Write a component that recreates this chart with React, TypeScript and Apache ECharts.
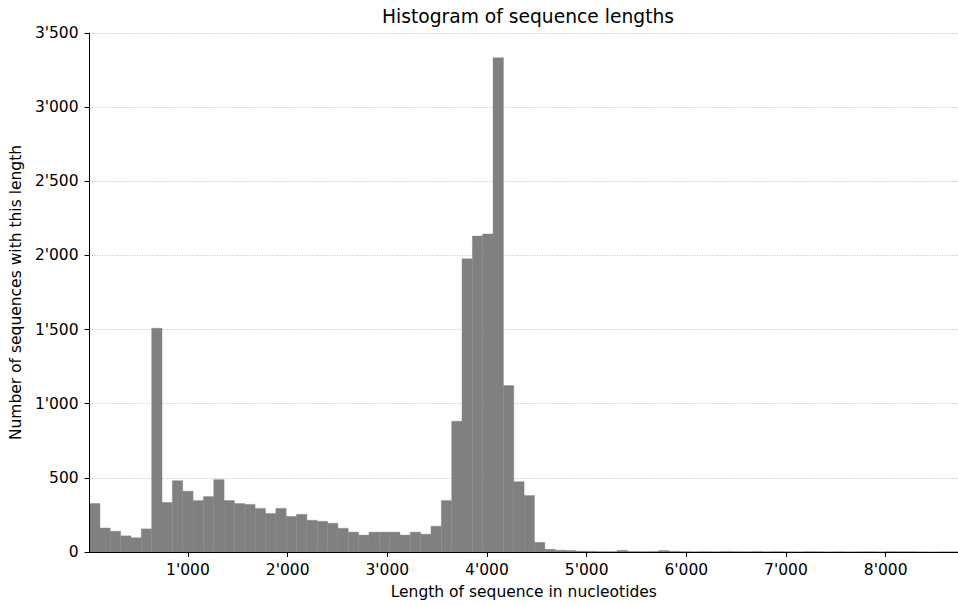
import React, { useEffect, useRef } from "react";
import * as echarts from "echarts";

const binStart = 13;
const binWidth = 103.8;
const counts = [
  327, 162, 140, 109, 96, 156, 1509, 334, 481, 410,
  347, 374, 488, 347, 327, 321, 294, 260, 294, 240,
  254, 214, 207, 194, 160, 134, 114, 134, 134, 134,
  114, 134, 120, 174, 347, 882, 1977, 2131, 2144, 3333,
  1122, 474, 381, 65, 18, 12, 10, 6, 5, 3,
  3, 11, 4, 3, 4, 10, 5, 3, 2, 3,
  2, 4, 3, 2, 4, 2, 3, 2, 1, 3,
  2, 1, 2, 1, 2, 2, 1, 3, 2, 2,
  1, 0, 1, 1,
];
const xTicks = [1000, 2000, 3000, 4000, 5000, 6000, 7000, 8000];
const yTicks = [0, 500, 1000, 1500, 2000, 2500, 3000, 3500];
const xMin = 13;
const xMax = 8726;

const titleText = "Histogram of sequence lengths";
const xName = "Length of sequence in nucleotides";
const yName = "Number of sequences with this length";

function fmt(v: number): string {
  return String(Math.round(v)).replace(/\B(?=(\d{3})+(?!\d))/g, "'");
}

const FONT = "DejaVu Sans";

export default function App() {
  const ref = useRef<HTMLDivElement>(null);
  useEffect(() => {
    if (!ref.current) return;
    const chart = echarts.init(ref.current, null, { renderer: "svg" });
    const data = counts.map((c, i) => [binStart + i * binWidth, binStart + (i + 1) * binWidth, c]);
    chart.setOption({
      animation: false,
      textStyle: { fontFamily: FONT },
      graphic: [
        {
          type: "text",
          x: 528,
          y: 7,
          style: {
            text: titleText,
            fontFamily: FONT,
            fontSize: 18.7,
            fill: "#000",
            textAlign: "center",
            textVerticalAlign: "top",
          },
        },
      ],
      grid: { left: 88, right: -10, top: 33, bottom: 48, containLabel: false },
      xAxis: {
        type: "value",
        min: xMin,
        max: xMax,
        z: 10,
        name: xName,
        nameLocation: "middle",
        nameGap: 32,
        nameTextStyle: { fontFamily: FONT, fontSize: 15.5, color: "#000" },
        axisLine: { show: true, lineStyle: { color: "#000", width: 1 } },
        axisTick: { show: true, customValues: xTicks, length: 5, lineStyle: { color: "#000", width: 1 } },
        axisLabel: {
          customValues: xTicks,
          formatter: (v: number) => fmt(v),
          fontFamily: FONT,
          fontSize: 15.5,
          color: "#000",
          margin: 10,
        },
        splitLine: { show: false },
      },
      yAxis: [
        {
          type: "value",
          min: 0,
          max: 3500,
          interval: 500,
          z: 10,
          name: yName,
          nameLocation: "middle",
          nameGap: 61,
          nameTextStyle: { fontFamily: FONT, fontSize: 15.5, color: "#000" },
          axisLine: { show: true, lineStyle: { color: "#000", width: 1 } },
          axisTick: { show: true, length: 5, lineStyle: { color: "#000", width: 1 } },
          axisLabel: {
            formatter: (v: number) => fmt(v),
            fontFamily: FONT,
            fontSize: 15.5,
            color: "#000",
            margin: 11,
            customValues: yTicks,
          },
          splitLine: { show: false },
        },
        {
          type: "value",
          min: 0,
          max: 3500,
          interval: 500,
          position: "left",
          axisLine: { show: false },
          axisTick: { show: false },
          axisLabel: { show: false },
          splitLine: { show: true, lineStyle: { color: "#b0b0b0", width: 0.8, type: [1, 1.5] } },
        },
      ],
      series: [
        {
          type: "custom",
          xAxisIndex: 0,
          yAxisIndex: 0,
          data,
          encode: { x: [0, 1], y: 2 },
          renderItem: (params: any, api: any) => {
            const s = api.coord([api.value(0), 0]);
            const e = api.coord([api.value(1), api.value(2)]);
            return {
              type: "rect",
              shape: { x: s[0], y: e[1], width: e[0] - s[0], height: s[1] - e[1] },
              style: { fill: "#808080", stroke: "#808080", lineWidth: 0.4 },
            };
          },
        },
      ],
    });
    return () => chart.dispose();
  }, []);
  return <div ref={ref} style={{ width: 958, height: 605, position: "absolute", left: 0, top: 0 }} />;
}
